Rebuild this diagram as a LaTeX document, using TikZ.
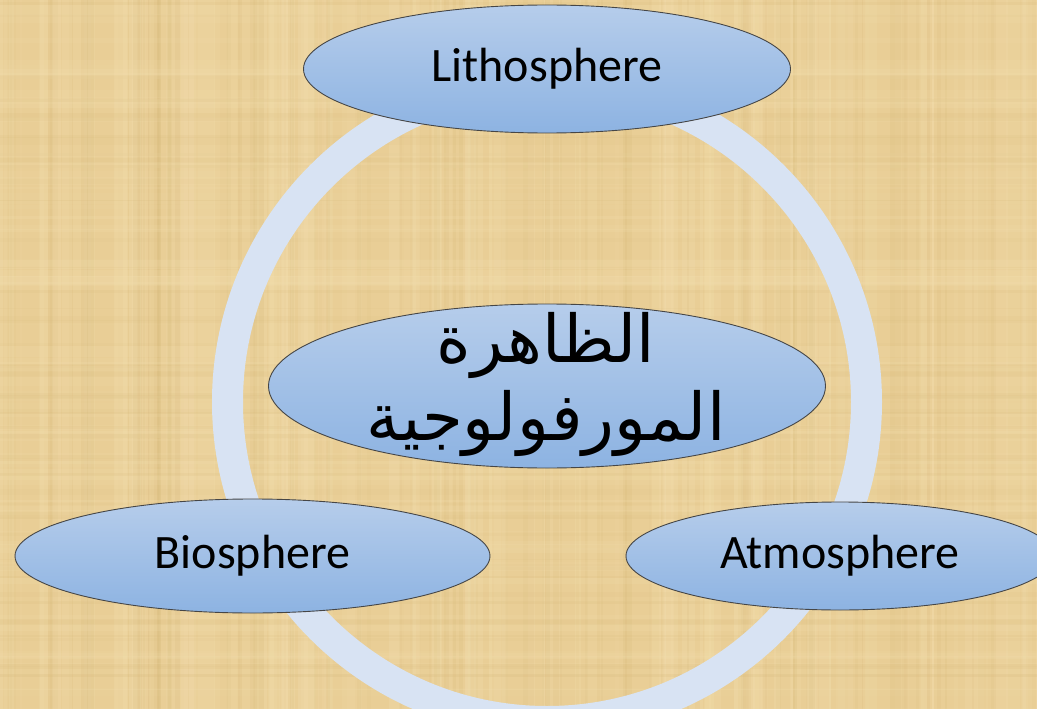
\documentclass[tikz,border=0pt]{standalone}
\usepackage{fontspec}
\setmainfont{Carlito}
\newfontfamily\arabicfont[Script=Arabic]{DejaVu Sans}
\TeXXeTstate=1
\usetikzlibrary{shapes.geometric}
\definecolor{papyrus}{RGB}{233,206,150}
\definecolor{papyruslight}{RGB}{244,224,176}
\definecolor{papyrusdark}{RGB}{214,184,120}
\definecolor{ringblue}{RGB}{216,227,243}
\definecolor{elltop}{RGB}{182,205,235}
\definecolor{ellbot}{RGB}{141,179,226}
\definecolor{ellline}{RGB}{70,70,70}
\tikzset{
  sphere/.style={ellipse, draw=ellline, line width=0.9pt, top color=elltop, bottom color=ellbot, inner sep=0pt, font=\fontsize{48}{52}\selectfont, text=black},
  ringstyle/.style={draw=ringblue, line width=31pt},
}
\begin{document}
\begin{tikzpicture}[x=1pt,y=-1pt]
\useasboundingbox (0,0) rectangle (1037,709);
\clip (0,0) rectangle (1037,709);
% papyrus background
\fill[papyrus] (0,0) rectangle (1037,709);
\pgfmathsetseed{7}
\foreach \i in {1,...,120} {
  \pgfmathsetmacro\xx{rnd*1037}
  \pgfmathsetmacro\ww{1+rnd*14}
  \pgfmathsetmacro\oo{0.08+rnd*0.2}
  \fill[papyruslight, opacity=\oo] (\xx,0) rectangle ++(\ww,709);
}
\foreach \i in {1,...,90} {
  \pgfmathsetmacro\xx{rnd*1037}
  \pgfmathsetmacro\ww{1+rnd*6}
  \pgfmathsetmacro\oo{0.06+rnd*0.14}
  \fill[papyrusdark, opacity=\oo] (\xx,0) rectangle ++(\ww,709);
}
\foreach \i in {1,...,70} {
  \pgfmathsetmacro\yy{rnd*709}
  \pgfmathsetmacro\hh{1+rnd*10}
  \pgfmathsetmacro\oo{0.06+rnd*0.16}
  \fill[papyruslight, opacity=\oo] (0,\yy) rectangle ++(1037,\hh);
}
\foreach \i in {1,...,50} {
  \pgfmathsetmacro\yy{rnd*709}
  \pgfmathsetmacro\hh{1+rnd*5}
  \pgfmathsetmacro\oo{0.05+rnd*0.12}
  \fill[papyrusdark, opacity=\oo] (0,\yy) rectangle ++(1037,\hh);
}
% ring
\coordinate (center) at (547,402);
\draw[ringstyle] (center) circle (319.5);
% nodes
\node[sphere, minimum width=487pt, minimum height=128pt] (litho) at (547,69) {\raisebox{-3pt}{Lithosphere}};
\node[sphere, minimum width=475pt, minimum height=114pt] (bio) at (252.5,556) {Biosphere};
\node[sphere, minimum width=428pt, minimum height=108pt] (atmo) at (840,556) {Atmosphere};
\node[ellipse, draw=ellline, line width=0.9pt, top color=elltop, bottom color=ellbot, inner sep=0pt, minimum width=557pt, minimum height=164pt, text=black] (morph) at (547,386) {};
\node[align=center, inner sep=0pt, text=black, font=\arabicfont\fontsize{66}{78}\selectfont] (morphtext) at (546,384) {\beginR الظاهرة\endR\\\beginR المورفولوجية\endR};
\end{tikzpicture}
\end{document}
